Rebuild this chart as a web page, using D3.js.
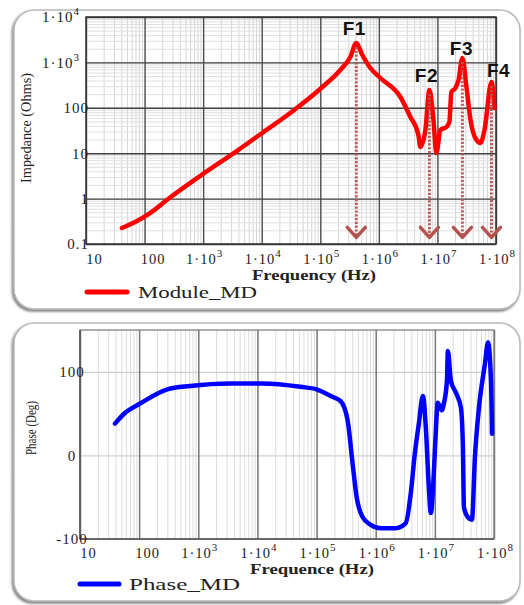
<!DOCTYPE html>
<html><head><meta charset="utf-8">
<script src="https://cdn.jsdelivr.net/npm/d3@7"></script>
<style>body{margin:0;background:#fff}svg{display:block}</style>
</head><body>
<svg id="c" width="524" height="605"></svg>
<script>
// ---------- data ----------
const decadeTicks = [10, 100, 1e3, 1e4, 1e5, 1e6, 1e7, 1e8];
const impTickValues = [0.1, 1, 10, 100, 1e3, 1e4];
const phaseTickValues = [-100, 0, 100];

const impFreq = [41, 69, 124, 252, 889, 3963, 10200, 30700, 104000, 220000, 326000, 412000, 522000, 716000, 1.06e6, 2.33e6, 3.45e6, 4.73e6, 5.12e6, 6.23e6, 7.3e6, 8.55e6, 9.61e6, 1.125e7, 1.425e7, 1.6e7, 1.73e7, 2.03e7, 2.29e7, 2.67e7, 3.13e7, 3.67e7, 4.64e7, 5.43e7, 6.36e7, 8.37e7, 9.42e7];
const impOhm = [0.225, 0.305, 0.48, 0.98, 3.15, 11.7, 27.9, 76.8, 273, 680, 1315, 2675, 1456, 753, 453, 173, 62.7, 25.2, 13.7, 32.4, 247, 53.8, 10.1, 32.4, 37.8, 48.7, 223, 273, 409, 1250, 287, 53.8, 19.5, 16.8, 32.4, 370, 99];

const phFreq = [39, 58, 104, 299, 731, 3480, 12200, 53600, 1e5, 172600, 255000, 335000, 407000, 476000, 602000, 823000, 1.22e6, 2.18e6, 3.22e6, 3.92e6, 4.58e6, 5.36e6, 6.27e6, 7.04e6, 7.91e6, 8.55e6, 9.61e6, 1.04e7, 1.12e7, 1.31e7, 1.42e7, 1.6e7, 1.66e7, 1.87e7, 2.27e7, 2.76e7, 2.98e7, 3.1e7, 3.62e7, 4.24e7, 4.76e7, 5.57e7, 7.04e7, 7.91e7, 8.9e7, 9.25e7];
const phDeg = [38, 51, 62, 79, 83, 86, 86, 82, 79, 71, 65, 42, -10, -50, -74, -83, -87, -87, -81, -45, 2, 38, 71, 33, -38, -69, -21, 30, 63, 54, 62, 89, 125, 89, 75, 57, 10, -62, -74, -77, -2, 57, 110, 135, 89, 26];

const peakLabels = ["F1", "F2", "F3", "F4"];
const peakFreq = [4.12e5, 7.3e6, 2.67e7, 8.37e7];
const peakOhm = [2675, 247, 1250, 370];
const arrowEndOhm = 0.14;

// layout offsets for the peak labels (pixels)
const labelDx = [-2, -3, -1, 7];
const labelDy = [-8, -8, -3, -5];

// ---------- drawing ----------
const svg = d3.select("#c");
const defs = svg.append("defs");
const f = defs.append("filter").attr("id", "sh").attr("x", "-5%").attr("y", "-5%").attr("width", "110%").attr("height", "110%");
f.append("feDropShadow").attr("dx", -1.5).attr("dy", 2).attr("stdDeviation", 1.2).attr("flood-color", "#666").attr("flood-opacity", 0.8);

function panel(x, y, w, h) {
  svg.append("rect").attr("x", x).attr("y", y).attr("width", w).attr("height", h)
    .attr("rx", 20).attr("ry", 20).attr("fill", "#fff")
    .attr("stroke", "#b8b8b8").attr("stroke-width", 1.5).attr("filter", "url(#sh)");
}
panel(14, 10, 506, 299);
panel(14, 323, 506, 278);

const serif = "'Liberation Serif','Times New Roman',serif";
const sans = "'Liberation Sans',Arial,sans-serif";

function expLabel(sel, d) {
  sel.text(null);
  if (d >= 0.1 && d <= 100) {
    sel.append("tspan").text(d === 0.1 ? "0.1" : String(d));
  } else {
    const e = Math.round(Math.log10(d));
    sel.append("tspan").text("1·10");
    sel.append("tspan").attr("dx", 0).attr("dy", -7).attr("font-size", 11).text(String(e));
  }
}

// ===== TOP CHART =====
const L1 = 86, R1 = 496, T1 = 17, B1 = 244;
const x1 = d3.scaleLog().domain([10, 1e8]).range([L1, R1]);
const y1 = d3.scaleLog().domain([0.1, 1e4]).range([B1, T1]);
const g1 = svg.append("g");

// minor grid
g1.append("g").attr("transform", `translate(0,${B1})`)
  .call(d3.axisBottom(x1).tickValues(x1.ticks()).tickSize(-(B1 - T1)).tickFormat(""))
  .call(g => { g.select(".domain").remove(); g.selectAll("line").attr("stroke", "#d6d6d6").attr("stroke-width", 1); });
g1.append("g").attr("transform", `translate(${L1},0)`)
  .call(d3.axisLeft(y1).tickValues(y1.ticks()).tickSize(-(R1 - L1)).tickFormat(""))
  .call(g => { g.select(".domain").remove(); g.selectAll("line").attr("stroke", "#e0e0e0").attr("stroke-width", 1); });
// major grid
g1.append("g").attr("transform", `translate(0,${B1})`)
  .call(d3.axisBottom(x1).tickValues(decadeTicks).tickSize(-(B1 - T1)).tickFormat(""))
  .call(g => { g.select(".domain").remove(); g.selectAll("line").attr("stroke", "#505050").attr("stroke-width", 1.4); });
g1.append("g").attr("transform", `translate(${L1},0)`)
  .call(d3.axisLeft(y1).tickValues(impTickValues).tickSize(-(R1 - L1)).tickFormat(""))
  .call(g => { g.select(".domain").remove(); g.selectAll("line").attr("stroke", "#404040").attr("stroke-width", 1.4); });
g1.append("rect").attr("x", L1).attr("y", T1).attr("width", R1 - L1).attr("height", B1 - T1)
  .attr("fill", "none").attr("stroke", "#333").attr("stroke-width", 1.5);

// x labels
g1.append("g").attr("transform", `translate(0,${B1})`)
  .call(d3.axisBottom(x1).tickValues(decadeTicks).tickSize(0).tickPadding(10).tickFormat(""))
  .call(g => {
    g.select(".domain").remove();
    g.selectAll("text").attr("font-family", serif).attr("font-size", 14.5).attr("letter-spacing", 1).attr("fill", "#222")
      .each(function (d) { const s = d3.select(this); expLabel(s, d); s.attr("dx", d <= 100 ? 8 : 1); });
  });
// y labels
g1.append("g").attr("transform", `translate(${L1},0)`)
  .call(d3.axisLeft(y1).tickValues(impTickValues).tickSize(0).tickPadding(-3).tickFormat(""))
  .call(g => {
    g.select(".domain").remove();
    g.selectAll("text").attr("font-family", serif).attr("font-size", 15).attr("letter-spacing", 1).attr("fill", "#222")
      .each(function (d) { const s = d3.select(this); expLabel(s, d); if (d >= 1e3) s.attr("x", -6); });
  });

// titles
svg.append("text").attr("x", 314).attr("y", 280).attr("text-anchor", "middle")
  .attr("font-family", serif).attr("font-weight", "bold").attr("font-size", 14).attr("fill", "#222")
  .attr("textLength", 124).attr("lengthAdjust", "spacingAndGlyphs").text("Frequency (Hz)");
svg.append("text").attr("transform", "translate(31,128) rotate(-90)").attr("text-anchor", "middle")
  .attr("font-family", serif).attr("font-size", 15).attr("fill", "#222")
  .attr("textLength", 110).attr("lengthAdjust", "spacingAndGlyphs").text("Impedance (Ohms)");

// impedance line
const line1 = d3.line().x((d, i) => x1(impFreq[i])).y((d, i) => y1(impOhm[i])).curve(d3.curveMonotoneX);
g1.append("path").datum(impFreq).attr("d", line1).attr("fill", "none").attr("stroke", "#ff0000")
  .attr("stroke-width", 4.5).attr("stroke-linejoin", "round").attr("stroke-linecap", "round");

// arrows
const arrowColor = "#b5534f";
peakFreq.forEach((pf, i) => {
  const ax = x1(pf), ay0 = y1(peakOhm[i]) + 4, ay1 = y1(arrowEndOhm);
  g1.append("line").attr("x1", ax).attr("x2", ax).attr("y1", ay0).attr("y2", ay1 - 2)
    .attr("stroke", arrowColor).attr("stroke-width", 3).attr("stroke-dasharray", "2.2,1.6").attr("opacity", 0.9);
  g1.append("polyline").attr("points", `${ax - 9},${ay1 - 10} ${ax},${ay1} ${ax + 9},${ay1 - 10}`)
    .attr("fill", "none").attr("stroke", arrowColor).attr("stroke-width", 3.5).attr("stroke-linecap", "round").attr("stroke-linejoin", "round");
  g1.append("text").attr("x", ax + labelDx[i]).attr("y", y1(peakOhm[i]) + labelDy[i])
    .attr("text-anchor", "middle").attr("font-family", sans).attr("font-weight", "bold")
    .attr("font-size", 19).attr("letter-spacing", 0.5).attr("fill", "#111").text(peakLabels[i]);
});

// legend top
svg.append("line").attr("x1", 87).attr("x2", 127).attr("y1", 292).attr("y2", 292)
  .attr("stroke", "#ff0000").attr("stroke-width", 5).attr("stroke-linecap", "round");
svg.append("text").attr("x", 138).attr("y", 298).attr("font-family", serif).attr("font-size", 17)
  .attr("fill", "#222").attr("textLength", 119).attr("lengthAdjust", "spacingAndGlyphs").text("Module_MD");

// ===== BOTTOM CHART =====
const L2 = 80, R2 = 494, T2 = 330, B2 = 539;
const x2 = d3.scaleLog().domain([10, 1e8]).range([L2, R2]);
const y2 = d3.scaleLinear().domain([-100, 150]).range([B2, T2]);
const g2 = svg.append("g");

g2.append("g").attr("transform", `translate(0,${B2})`)
  .call(d3.axisBottom(x2).tickValues(x2.ticks()).tickSize(-(B2 - T2)).tickFormat(""))
  .call(g => { g.select(".domain").remove(); g.selectAll("line").attr("stroke", "#dcdcdc").attr("stroke-width", 1); });
g2.append("g").attr("transform", `translate(${L2},0)`)
  .call(d3.axisLeft(y2).tickValues(phaseTickValues).tickSize(-(R2 - L2)).tickFormat(""))
  .call(g => { g.select(".domain").remove(); g.selectAll("line").attr("stroke", "#d0d0d0").attr("stroke-width", 1.2); });
g2.append("g").attr("transform", `translate(0,${B2})`)
  .call(d3.axisBottom(x2).tickValues(decadeTicks).tickSize(-(B2 - T2)).tickFormat(""))
  .call(g => { g.select(".domain").remove(); g.selectAll("line").attr("stroke", "#7a7a7a").attr("stroke-width", 1.5); });
g2.append("rect").attr("x", L2).attr("y", T2).attr("width", R2 - L2).attr("height", B2 - T2)
  .attr("fill", "none").attr("stroke", "#777").attr("stroke-width", 1.2);
g2.append("line").attr("x1", L2).attr("x2", L2).attr("y1", T2).attr("y2", B2).attr("stroke", "#555").attr("stroke-width", 1.5);
g2.append("line").attr("x1", L2).attr("x2", R2).attr("y1", B2).attr("y2", B2).attr("stroke", "#555").attr("stroke-width", 1.5);

g2.append("g").attr("transform", `translate(0,${B2})`)
  .call(d3.axisBottom(x2).tickValues(decadeTicks).tickSize(0).tickPadding(9).tickFormat(""))
  .call(g => {
    g.select(".domain").remove();
    g.selectAll("text").attr("font-family", serif).attr("font-size", 14.5).attr("letter-spacing", 1).attr("fill", "#222")
      .each(function (d) { const s = d3.select(this); expLabel(s, d); s.attr("dx", d <= 100 ? 8 : 1); });
  });
g2.append("g").attr("transform", `translate(${L2},0)`)
  .call(d3.axisLeft(y2).tickValues(phaseTickValues).tickSize(0).tickPadding(8).tickFormat(d => String(d)))
  .call(g => {
    g.select(".domain").remove();
    g.selectAll("text").attr("font-family", serif).attr("font-size", 15).attr("letter-spacing", 1).attr("fill", "#222")
      .attr("text-anchor", "middle");
  });

svg.append("text").attr("x", 312).attr("y", 574).attr("text-anchor", "middle")
  .attr("font-family", serif).attr("font-weight", "bold").attr("font-size", 14).attr("fill", "#222")
  .attr("textLength", 124).attr("lengthAdjust", "spacingAndGlyphs").text("Frequence (Hz)");
svg.append("text").attr("transform", "translate(36,428) rotate(-90)").attr("text-anchor", "middle")
  .attr("font-family", serif).attr("font-size", 15).attr("fill", "#222")
  .attr("textLength", 54).attr("lengthAdjust", "spacingAndGlyphs").text("Phase (Deg)");

const line2 = d3.line().x((d, i) => x2(phFreq[i])).y((d, i) => y2(phDeg[i])).curve(d3.curveMonotoneX);
g2.append("path").datum(phFreq).attr("d", line2).attr("fill", "none").attr("stroke", "#0000ff")
  .attr("stroke-width", 4.5).attr("stroke-linejoin", "round").attr("stroke-linecap", "round");

svg.append("line").attr("x1", 80).attr("x2", 119).attr("y1", 584).attr("y2", 584)
  .attr("stroke", "#0000ff").attr("stroke-width", 5).attr("stroke-linecap", "round");
svg.append("text").attr("x", 129).attr("y", 590).attr("font-family", serif).attr("font-size", 17)
  .attr("fill", "#222").attr("textLength", 111).attr("lengthAdjust", "spacingAndGlyphs").text("Phase_MD");
</script>
</body></html>
